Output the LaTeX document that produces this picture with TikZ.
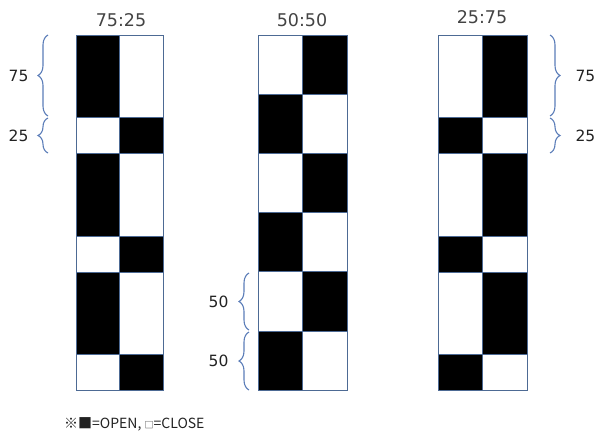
\documentclass[tikz,border=0pt]{standalone}
\usepackage{fontspec}
\usepackage{tikz}
\usetikzlibrary{decorations.pathreplacing}
\newfontfamily\numfont{DejaVu Sans}
\newfontfamily\jpfont{Noto Sans CJK JP}
\definecolor{gridslate}{HTML}{4D6A94}
\definecolor{braceblue}{HTML}{5B7DB8}
\definecolor{numgray}{HTML}{222222}

\begin{document}
\begin{tikzpicture}[
  x=1pt,y=-1pt,
  cellon/.style={fill=black,draw=gridslate,line width=0.6pt},
  celloff/.style={fill=white,draw=gridslate,line width=0.6pt},
  brc/.style={decorate,decoration={brace,amplitude=10pt},draw=braceblue,line width=1.1pt},
  numlbl/.style={font=\numfont\fontsize{15.5}{18}\selectfont,text=numgray,inner sep=0pt},
  ttl/.style={font=\numfont\fontsize{17.5}{20}\selectfont,text=numgray!85,inner sep=0pt},
  legend/.style={font=\jpfont\fontsize{14}{16}\selectfont,text=numgray,inner sep=0pt,anchor=west},
]
\useasboundingbox (0,0) rectangle (596,434);

% Titles
\node[ttl] (tleft)  at (121,20) {75:25};
\node[ttl] (tmid)   at (302,20) {50:50};
\node[ttl] (tright) at (482,17) {25:75};

% Left column: 75:25
\foreach \ya/\yb/\l/\r in {35/117/on/off,117/153/off/on,153/236/on/off,236/272/off/on,272/354/on/off,354/390/off/on}{
  \draw[cell\l] (76,\ya) rectangle (119,\yb);
  \draw[cell\r] (119,\ya) rectangle (163,\yb);
}

% Middle column: 50:50
\foreach \ya/\yb/\l/\r in {35/94.2/off/on,94.2/153.3/on/off,153.3/212.5/off/on,212.5/271.7/on/off,271.7/330.8/off/on,330.8/390/on/off}{
  \draw[cell\l] (258,\ya) rectangle (302,\yb);
  \draw[cell\r] (302,\ya) rectangle (347,\yb);
}

% Right column: 25:75
\foreach \ya/\yb/\l/\r in {35/117/off/on,117/153/on/off,153/236/off/on,236/272/on/off,272/354/off/on,354/390/on/off}{
  \draw[cell\l] (438,\ya) rectangle (482,\yb);
  \draw[cell\r] (482,\ya) rectangle (527,\yb);
}

% Braces with counts
\draw[brc] (48,116) -- node[numlbl,left=19pt] (lbig) {75} (48,35);
\draw[brc] (48,153) -- node[numlbl,left=19pt] (lsmall) {25} (48,118);
\draw[brc] (249,330) -- node[numlbl,left=20pt] (mtop) {50} (249,273);
\draw[brc] (249,390) -- node[numlbl,left=20pt] (mbot) {50} (249,332);
\draw[brc] (550,35) -- node[numlbl,right=25pt] (rbig) {75} (550,116);
\draw[brc] (550,118) -- node[numlbl,right=25pt] (rsmall) {25} (550,153);

% Legend
\node[legend] (key) at (64,424) {※■=OPEN, {\fontsize{9}{10}\selectfont □}=CLOSE};
\end{tikzpicture}
\end{document}
